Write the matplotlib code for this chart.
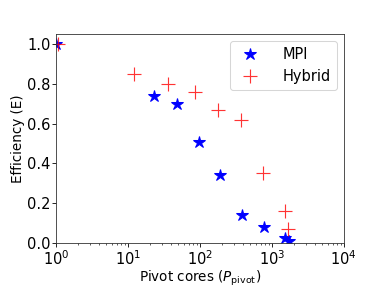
import numpy as np
import matplotlib.pyplot as plt

# -------- DATA --------
mpi_cores = [1, 23, 48, 96, 192, 384, 768, 1536, 1728]
mpi_eff = [1.0, 0.74, 0.70, 0.505, 0.34, 0.14, 0.08, 0.028, 0.012]

hyb_cores = [1.05, 12, 36, 84, 180, 372, 744, 1500, 1700]
hyb_eff = [1.0, 0.85, 0.80, 0.76, 0.67, 0.62, 0.35, 0.16, 0.07]
# ----------------------

DPI = 75
fig = plt.figure(figsize=(382 / DPI, 287 / DPI), dpi=DPI)
ax = fig.add_axes([0.147, 0.153, 0.753, 0.729])

ax.plot(mpi_cores, mpi_eff, "*", color="blue", markersize=12, label="MPI", linestyle="none")
ax.plot(hyb_cores, hyb_eff, "+", color="red", alpha=0.8, markersize=12.5,
        markeredgewidth=1.1, label="Hybrid", linestyle="none")

ax.set_xscale("log")
ax.set_xlim(1, 1e4)
ax.set_ylim(0, 1.05)
ax.set_yticks([0.0, 0.2, 0.4, 0.6, 0.8, 1.0])
ax.tick_params(labelsize=14, pad=2)
for s in ax.spines.values():
    s.set_color("#333333")

ax.set_xlabel(r"Pivot cores ($P_{\rm pivot}$)", fontsize=13, labelpad=1)
ax.set_ylabel("Efficiency (E)", fontsize=13, labelpad=2)
ax.legend(loc="upper right", fontsize=14, handletextpad=1.2)

fig.savefig("out.png", dpi=DPI)
